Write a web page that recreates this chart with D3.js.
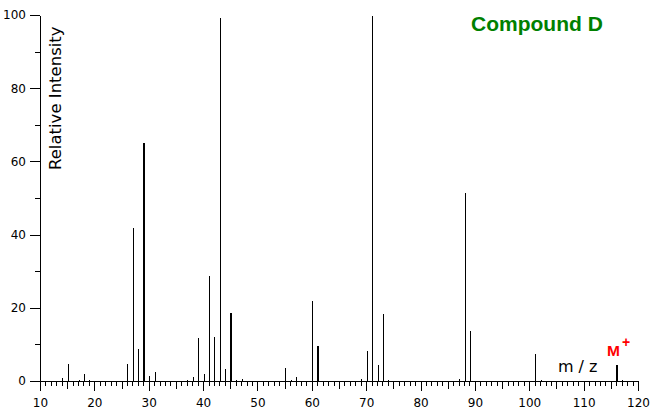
<!DOCTYPE html>
<html><head><meta charset="utf-8">
<script src="https://cdn.jsdelivr.net/npm/d3@7"></script>
<style>body{margin:0;background:#fff}svg{display:block}</style>
</head><body>
<svg id="chart" width="657" height="416"></svg>
<script>
// ---- data ----
const mzValues    = [13, 14, 15, 16, 17, 18, 19, 25, 26, 27, 28, 29, 30, 31, 32, 37, 38, 39, 40, 41, 42, 43, 44, 45, 46, 47, 53, 54, 55, 56, 57, 58, 59, 60, 61, 62, 69, 70, 71, 72, 73, 74, 86, 87, 88, 89, 90, 101, 102, 116, 117];
const intensities = [0.3, 1.1, 5.0, 0.4, 0.6, 2.3, 0.5, 0.3, 5.0, 42.0, 9.1, 65.3, 1.6, 2.8, 0.3, 0.5, 1.4, 12.1, 2.3, 29.0, 12.3, 99.5, 3.6, 18.9, 0.6, 0.8, 0.3, 0.3, 3.9, 0.6, 1.5, 0.4, 0.3, 22.1, 9.8, 0.4, 0.9, 8.5, 100, 4.7, 18.6, 0.6, 0.4, 0.9, 51.6, 13.9, 0.3, 7.7, 0.5, 4.7, 0.6];
const boldMz      = [29, 45, 61, 116];
const xLabelTicks = [10, 20, 30, 40, 50, 60, 70, 80, 90, 100, 110, 120];
const xMidTicks   = [15, 25, 35, 45, 55, 65, 75, 85, 95, 105, 115];
const xUnitTicks  = d3.range(10, 121, 1);
const yLabelTicks = [0, 20, 40, 60, 80, 100];
const yMinorTicks = [10, 30, 50, 70, 90];
const titleText   = "Compound D";
const yTitle      = "Relative Intensity";
const xTitle      = "m/z";
const ionLabel    = "M";
const ionCharge   = "+";

const svg = d3.select("#chart");
const x = d3.scaleLinear().domain([10, 120]).range([40, 638]);
const y = d3.scaleLinear().domain([0, 100]).range([381, 15]);
const FONT = "'DejaVu Sans', sans-serif";

function xAxisLayer(ticks, size, labels) {
  const g = svg.append("g").attr("transform", "translate(0,381)")
    .call(d3.axisBottom(x).tickValues(ticks).tickSize(size).tickSizeOuter(0)
      .tickPadding(7).tickFormat(labels ? d3.format("d") : ""));
  g.selectAll(".tick line").attr("stroke", "#000").attr("shape-rendering", "crispEdges");
  g.select(".domain").attr("stroke", "#000").attr("shape-rendering", "crispEdges");
  g.selectAll("text").attr("font-family", FONT).attr("font-size", 12).attr("fill", "#000");
  return g;
}
xAxisLayer(xUnitTicks, 5, false);
xAxisLayer(xMidTicks, 8, false);
xAxisLayer(xLabelTicks, 10, true);

function yAxisLayer(ticks, size, labels) {
  const g = svg.append("g").attr("transform", "translate(40,0)")
    .call(d3.axisLeft(y).tickValues(ticks).tickSize(size).tickSizeOuter(0)
      .tickPadding(4).tickFormat(labels ? d3.format("d") : ""));
  g.selectAll(".tick line").attr("stroke", "#000").attr("shape-rendering", "crispEdges");
  g.select(".domain").attr("stroke", "#000").attr("shape-rendering", "crispEdges");
  g.selectAll("text").attr("font-family", FONT).attr("font-size", 12).attr("fill", "#000");
  return g;
}
yAxisLayer(yMinorTicks, 5, false);
yAxisLayer(yLabelTicks, 10, true);

// peaks
const peaks = mzValues.map((m, i) => ({ mz: m, v: intensities[i], bold: boldMz.includes(m) }));
const px = d => Math.round(x(d.mz) + 0.5) + (d.bold ? 0 : 0.5);
svg.append("g").selectAll("line").data(peaks).join("line")
  .attr("x1", px)
  .attr("x2", px)
  .attr("y1", y(0) + 0.5)
  .attr("y2", d => Math.round(y(d.v)) + 0.5)
  .attr("stroke", "#000")
  .attr("stroke-width", d => d.bold ? 2 : 1)
  .attr("shape-rendering", "crispEdges");

// titles
svg.append("text").attr("transform", "translate(61,170) rotate(-90)")
  .attr("font-family", FONT).attr("font-size", 16.5).attr("fill", "#000")
  .text(yTitle);

svg.append("text").attr("x", 558).attr("y", 372)
  .attr("font-family", FONT).attr("font-size", 16).attr("letter-spacing", 5).attr("fill", "#000")
  .text(xTitle);

svg.append("text").attr("x", 471).attr("y", 31)
  .attr("font-family", "'Liberation Sans', Arial, sans-serif").attr("font-weight", "bold")
  .attr("font-size", 21).attr("fill", "#008000")
  .text(titleText);

svg.append("text").attr("x", 607).attr("y", 356)
  .attr("font-family", "'Liberation Sans', Arial, sans-serif").attr("font-weight", "bold")
  .attr("font-size", 15.5).attr("fill", "#ff0000")
  .text(ionLabel);
svg.append("text").attr("x", 622).attr("y", 347)
  .attr("font-family", "'Liberation Sans', Arial, sans-serif").attr("font-weight", "bold")
  .attr("font-size", 14).attr("fill", "#ff0000")
  .text(ionCharge);
</script>
</body></html>
